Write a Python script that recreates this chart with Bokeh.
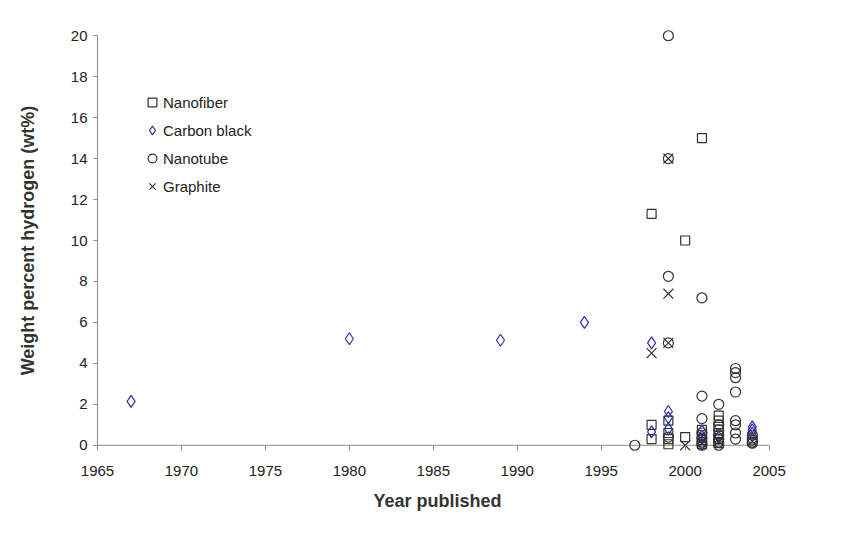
from bokeh.plotting import figure
from bokeh.models import ColumnDataSource, FixedTicker, Range1d, Legend, LegendItem
from bokeh.embed import file_html
from bokeh.resources import INLINE

# ---- data ----
nanofiber_year = [1998, 1998, 1998, 1999, 1999, 1999, 1999, 2000, 2000,
                  2001, 2001, 2001, 2001, 2001, 2002, 2002, 2002, 2002, 2002, 2002]
nanofiber_wt = [11.3, 1.0, 0.3, 1.2, 0.6, 0.3, 0.05, 10.0, 0.4,
                15.0, 0.75, 0.5, 0.25, 0.05, 1.45, 1.2, 0.9, 0.6, 0.3, 0.1]

carbon_year = [1967, 1980, 1989, 1994, 1998, 1998, 1999, 1999, 1999,
               2001, 2001, 2001, 2002, 2004, 2004, 2004]
carbon_wt = [2.14, 5.2, 5.13, 6.0, 5.0, 0.65, 1.65, 1.35, 0.8,
             0.7, 0.45, 0.05, 0.4, 0.9, 0.75, 0.6]

nanotube_year = [1997, 1999, 1999, 1999, 1999, 1999,
                 2001, 2001, 2001, 2001, 2001, 2001, 2001,
                 2002, 2002, 2002, 2002, 2002, 2002, 2002,
                 2003, 2003, 2003, 2003, 2003, 2003, 2003, 2003,
                 2004, 2004, 2004, 2004, 2004]
nanotube_wt = [0.0, 20.0, 14.0, 8.25, 5.0, 0.4,
               7.2, 2.4, 1.3, 0.6, 0.35, 0.15, 0.0,
               2.0, 1.0, 0.75, 0.5, 0.3, 0.15, 0.0,
               3.75, 3.55, 3.3, 2.6, 1.2, 1.0, 0.6, 0.3,
               0.5, 0.35, 0.25, 0.15, 0.1]

graphite_year = [1998, 1999, 1999, 1999, 2000, 2001, 2002, 2004]
graphite_wt = [4.5, 14.0, 7.4, 5.0, 0.0, 0.1, 0.2, 0.2]

x_ticks = [1965, 1970, 1975, 1980, 1985, 1990, 1995, 2000, 2005]
y_ticks = [0, 2, 4, 6, 8, 10, 12, 14, 16, 18, 20]

FONT = "Liberation Sans"
DARK = "#333333"
BLUE = "#2f2fa8"
AXIS = "#8a8a8a"

W, H = 831, 517
BL, BR, BT, BB = 97, 54, 25, 62

p = figure(width=W, height=H, output_backend="svg", toolbar_location=None,
           x_range=Range1d(1965, 2005.5), y_range=Range1d(-0.5, 20.5),
           min_border_left=BL, min_border_right=BR, min_border_top=BT, min_border_bottom=BB,
           background_fill_color="white", border_fill_color="white")
p.outline_line_color = None
p.grid.visible = False

src_nf = ColumnDataSource(dict(x=nanofiber_year, y=nanofiber_wt))
src_cb = ColumnDataSource(dict(x=carbon_year, y=carbon_wt))
src_nt = ColumnDataSource(dict(x=nanotube_year, y=nanotube_wt))
src_gr = ColumnDataSource(dict(x=graphite_year, y=graphite_wt))

# x-axis line at y = 0, spanning the tick range
p.segment(x0=[x_ticks[0]], y0=[y_ticks[0]], x1=[x_ticks[-1]], y1=[y_ticks[0]],
          line_color=AXIS, line_width=1)

r_nf = p.scatter("x", "y", source=src_nf, marker="square", size=9,
                 fill_color=None, line_color=DARK, line_width=1.2)
r_cb = p.scatter("x", "y", source=src_cb, marker="diamond", size=12,
                 fill_color=None, line_color=BLUE, line_width=1.2)
r_nt = p.scatter("x", "y", source=src_nt, marker="circle", size=10,
                 fill_color=None, line_color=DARK, line_width=1.2)
r_gr = p.scatter("x", "y", source=src_gr, marker="x", size=14,
                 fill_color=None, line_color=DARK, line_width=1.2)

legend = Legend(items=[LegendItem(label="Nanofiber", renderers=[r_nf]),
                       LegendItem(label="Carbon black", renderers=[r_cb]),
                       LegendItem(label="Nanotube", renderers=[r_nt]),
                       LegendItem(label="Graphite", renderers=[r_gr])],
                location=(44, 258))
legend.background_fill_alpha = 0
legend.border_line_color = None
legend.padding = 0
legend.margin = 0
legend.spacing = 6
legend.glyph_width = 22
legend.glyph_height = 22
legend.label_standoff = -6
legend.label_text_font = FONT
legend.label_text_font_size = "15px"
legend.label_text_color = "#222222"
p.add_layout(legend, "center")

# axes
xa = p.xaxis[0]
xa.ticker = FixedTicker(ticks=x_ticks)
xa.bounds = (1965, 2005)
xa.axis_line_color = None
xa.major_tick_line_color = AXIS
xa.minor_tick_line_color = None
xa.major_tick_in = 10
xa.major_tick_out = -5
xa.major_label_standoff = 10
xa.major_label_text_font = FONT
xa.major_label_text_font_size = "15px"
xa.major_label_text_color = "#222222"
xa.axis_label = "Year published"
xa.axis_label_text_font = FONT
xa.axis_label_text_font_size = "18px"
xa.axis_label_text_font_style = "bold"
xa.axis_label_text_color = DARK
xa.axis_label_standoff = 12

ya = p.yaxis[0]
ya.ticker = FixedTicker(ticks=y_ticks)
ya.bounds = (0, 20)
ya.axis_line_color = AXIS
ya.major_tick_line_color = AXIS
ya.minor_tick_line_color = None
ya.major_tick_in = 0
ya.major_tick_out = 4
ya.major_label_standoff = 6
ya.major_label_text_font = FONT
ya.major_label_text_font_size = "15px"
ya.major_label_text_color = "#222222"
ya.axis_label = "Weight percent hydrogen (wt%)"
ya.axis_label_text_font = FONT
ya.axis_label_text_font_size = "18px"
ya.axis_label_text_font_style = "bold"
ya.axis_label_text_color = DARK
ya.axis_label_standoff = 30

open("out.html", "w").write(file_html(p, INLINE))
